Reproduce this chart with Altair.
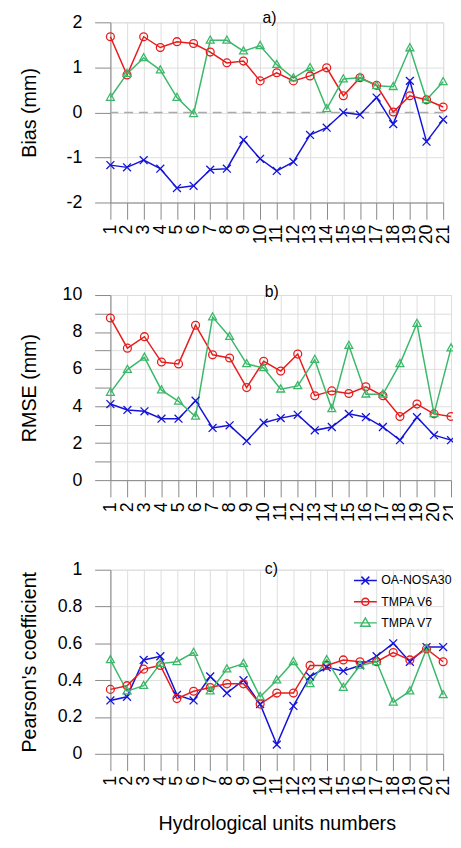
import altair as alt
import pandas as pd

units = list(range(1, 22))
series = ["OA-NOSA30", "TMPA V6", "TMPA V7"]
colors = ["#1414d8", "#e81c1c", "#3cb86a"]

bias_oa = [-1.17, -1.22, -1.06, -1.25, -1.68, -1.63, -1.27, -1.25, -0.61, -1.03, -1.30,
           -1.10, -0.50, -0.34, 0.00, -0.05, 0.33, -0.26, 0.70, -0.65, -0.16]
bias_v6 = [1.68, 0.83, 1.68, 1.44, 1.57, 1.53, 1.34, 1.10, 1.14, 0.70, 0.88,
           0.70, 0.81, 0.99, 0.37, 0.77, 0.60, 0.01, 0.37, 0.28, 0.12]
bias_v7 = [0.33, 0.86, 1.21, 0.94, 0.33, -0.03, 1.60, 1.60, 1.36, 1.48, 1.06,
           0.76, 0.99, 0.08, 0.74, 0.77, 0.59, 0.57, 1.43, 0.28, 0.68]

rmse_oa = [4.11, 3.79, 3.72, 3.32, 3.32, 4.29, 2.82, 2.96, 2.11, 3.10, 3.35,
           3.53, 2.69, 2.87, 3.58, 3.40, 2.87, 2.16, 3.40, 2.43, 2.16]
rmse_v6 = [8.76, 7.13, 7.75, 6.38, 6.28, 8.37, 6.77, 6.60, 5.00, 6.42, 5.89,
           6.81, 4.56, 4.82, 4.68, 5.04, 4.56, 3.44, 4.11, 3.58, 3.44]
rmse_v7 = [4.73, 5.97, 6.63, 4.86, 4.26, 3.44, 8.81, 7.75, 6.28, 6.06, 4.91,
           5.09, 6.51, 3.85, 7.27, 4.64, 4.64, 6.28, 8.46, 3.58, 7.13]

r_oa = [0.29, 0.31, 0.51, 0.53, 0.32, 0.29, 0.42, 0.33, 0.40, 0.27, 0.05,
        0.26, 0.42, 0.47, 0.45, 0.48, 0.53, 0.60, 0.50, 0.58, 0.58]
r_v6 = [0.35, 0.37, 0.46, 0.48, 0.30, 0.34, 0.36, 0.38, 0.38, 0.27, 0.33,
        0.33, 0.48, 0.48, 0.51, 0.50, 0.50, 0.55, 0.51, 0.57, 0.50]
r_v7 = [0.51, 0.34, 0.37, 0.49, 0.50, 0.55, 0.34, 0.46, 0.49, 0.31, 0.40,
        0.50, 0.38, 0.51, 0.36, 0.48, 0.50, 0.28, 0.34, 0.57, 0.32]

zero_line = [0]

FONT = "Liberation Sans"
X_PATH = "M-1,-1L1,1M-1,1L1,-1"
TRI_PATH = "M0,-1.1L1,0.7L-1,0.7Z"
shape_range = [X_PATH, "circle", TRI_PATH]
legend_shapes = [
    "M-1.45,0L1.45,0M-0.5,-0.5L0.5,0.5M-0.5,0.5L0.5,-0.5",
    "M-1.45,0L1.45,0M0.45,0A0.45,0.45 0 1 1 -0.45,0A0.45,0.45 0 1 1 0.45,0",
    "M-1.45,0L1.45,0M0,-0.62L0.6,0.42L-0.6,0.42Z",
]


def long(vals, field):
    rows = []
    for s, vs in zip(series, vals):
        for u, v in zip(units, vs):
            rows.append({"unit": u, "series": s, field: v})
    return pd.DataFrame(rows)


def panel(df, field, ytitle, domain, yvalues, label_expr, width, height,
          ptitle, toffset, tdx, tpad, xtitle=None, with_legend=False, zero=False):
    xaxis = alt.Axis(values=units, tickSize=17, labelAngle=270, labelAlign="right",
                     labelBaseline="middle", labelPadding=5, labelFlush=False,
                     labelOverlap=False, labelFontSize=18, title=xtitle,
                     titleFontSize=20, titlePadding=19, titleFontWeight="normal")
    x = alt.X("unit:Q", scale=alt.Scale(domain=[1, 21], nice=False, zero=False), axis=xaxis)
    yaxis = alt.Axis(values=yvalues, tickSize=16, labelPadding=13, labelFontSize=18,
                     labelExpr=label_expr, labelOverlap=False, labelFlush=False,
                     title=ytitle, titleFontSize=20, titlePadding=tpad,
                     titleFontWeight="normal")
    y = alt.Y(f"{field}:Q", scale=alt.Scale(domain=domain, nice=False, zero=False), axis=yaxis)
    color = alt.Color("series:N", scale=alt.Scale(domain=series, range=colors), legend=None)
    shape = alt.Shape("series:N", scale=alt.Scale(domain=series, range=shape_range), legend=None)
    base = alt.Chart(df)
    lines = base.mark_line(strokeWidth=1.5).encode(x=x, y=y, color=color)
    pts = base.mark_point(filled=False, size=64, strokeWidth=1.3, opacity=1).encode(
        x=x, y=y, color=color, shape=shape)
    layers = [lines, pts]
    if zero:
        rule = alt.Chart(pd.DataFrame({field: zero_line})).mark_rule(
            color="#aaaaaa", strokeDash=[9, 6], strokeWidth=1.5).encode(y=y)
        layers = [rule] + layers
    if with_legend:
        leg = alt.Legend(
            orient="none", legendX=250, legendY=2, title=None, symbolSize=256,
            labelFontSize=12.5, labelFont=FONT, labelColor="black", labelOffset=7,
            rowPadding=5.5, padding=0, symbolStrokeWidth=1.5, symbolOpacity=1,
            symbolFillColor="transparent",
        )
        leg_layer = base.transform_filter("datum.unit < 0").mark_point(
            filled=False, size=256, strokeWidth=1.5).encode(
            x=x, y=y,
            color=alt.Color("series:N", scale=alt.Scale(domain=series, range=colors), legend=leg),
            shape=alt.Shape("series:N", scale=alt.Scale(domain=series, range=legend_shapes), legend=leg),
        )
        layers = layers + [leg_layer]
    out = alt.layer(*layers).properties(
        width=width, height=height,
        title=alt.TitleParams(ptitle, fontSize=16, fontWeight="normal", font=FONT,
                              color="black", anchor="middle", frame="group",
                              offset=toffset, dx=tdx),
    )
    if with_legend:
        out = out.resolve_scale(color="independent", shape="independent")
    return out


pa = panel(long([bias_oa, bias_v6, bias_v7], "bias"), "bias", "Bias (mm)", [-2, 2],
           [-2, -1, 0, 1, 2],
           "datum.value < 0 ? '-' + toString(abs(datum.value)) : toString(datum.value)",
           338, 183, "a)", -13, -7.5, 27, zero=True)
pb = panel(long([rmse_oa, rmse_v6, rmse_v7], "rmse"), "rmse", "RMSE (mm)", [0, 10],
           list(range(0, 11)), "datum.value % 2 == 0 ? toString(datum.value) : ''",
           346, 188, "b)", -14.5, -9, 23)
pc = panel(long([r_oa, r_v6, r_v7], "r"), "r", "Pearson's coefficient", [0, 1],
           [0, 0.2, 0.4, 0.6, 0.8, 1], "format(datum.value, '~g')",
           338, 187, "c)", -16.5, -5.5, 18, xtitle="Hydrological units numbers",
           with_legend=True)

inner = alt.vconcat(pa, pb, spacing=40).resolve_scale(color="independent", shape="independent")
chart = alt.vconcat(inner, pc, spacing=38).resolve_scale(
    color="independent", shape="independent"
).properties(
    padding={"left": 11, "top": -5, "right": -8, "bottom": 0}
).configure_axis(
    labelFont=FONT, titleFont=FONT, labelColor="black", titleColor="black",
    domainColor="black", tickColor="black", domainWidth=1.5, tickWidth=1.5,
    grid=False, titleFontWeight="normal",
).configure_title(fontWeight="normal").configure_view(stroke=None).configure(background="white")

chart.save("out.html", embed_options={"renderer": "svg", "actions": False})
